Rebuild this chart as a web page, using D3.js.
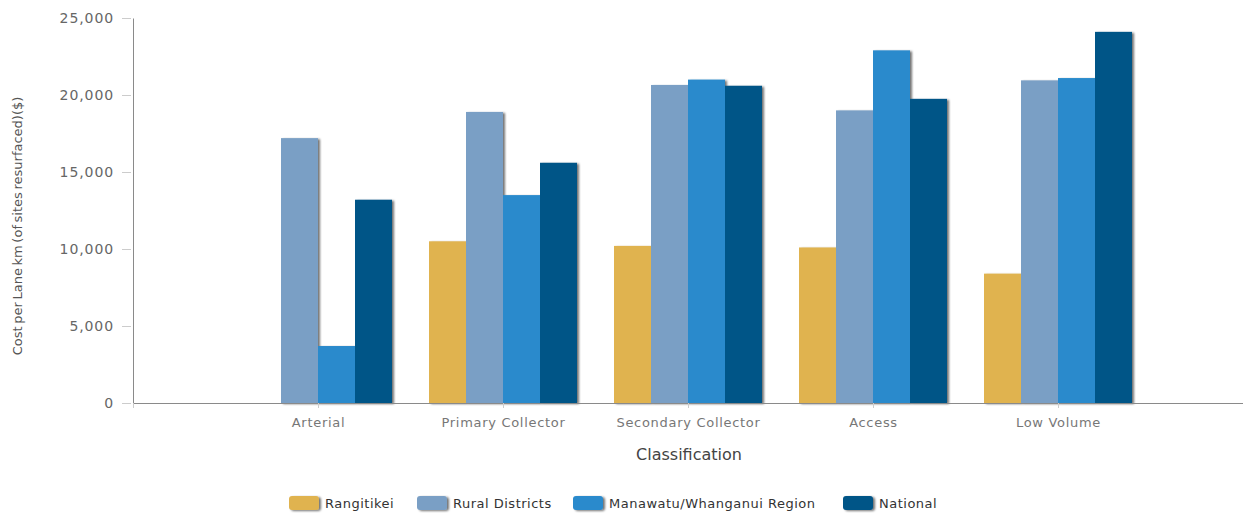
<!DOCTYPE html>
<html>
<head>
<meta charset="utf-8">
<script src="https://cdn.jsdelivr.net/npm/d3@7"></script>
<style>
  body { margin: 0; background: #fff; }
  text { font-family: "DejaVu Sans", Verdana, sans-serif; }
</style>
</head>
<body>
<div id="chart"></div>
<script>
(function(){
    var width = 1245, height = 515;

    // data
    var categories = ["Arterial", "Primary Collector", "Secondary Collector", "Access", "Low Volume"];
    var seriesNames = ["Rangitikei", "Rural Districts", "Manawatu/Whanganui Region", "National"];
    var rangitikei = [0, 10500, 10200, 10100, 8400];
    var ruralDistricts = [17200, 18900, 20650, 19000, 20950];
    var region = [3700, 13500, 21000, 22900, 21100];
    var national = [13200, 15600, 20600, 19750, 24100];
    var yTicks = [0, 5000, 10000, 15000, 20000, 25000];
    var colors = ["#e0b350", "#7a9fc5", "#2a8acc", "#025487"];

    var allSeries = [rangitikei, ruralDistricts, region, national];

    var margin = {top: 18, left: 133, right: 2, bottom: 112};
    var plotW = width - margin.left - margin.right,
        plotH = height - margin.top - margin.bottom;

    var svg = d3.select("#chart").append("svg")
        .attr("width", width)
        .attr("height", height);

    // drop shadow for bars and legend swatches
    var defs = svg.append("defs");
    var f = defs.append("filter").attr("id", "shadow")
        .attr("x", "-20%").attr("y", "-5%").attr("width", "150%").attr("height", "130%");
    f.append("feDropShadow")
        .attr("dx", 2).attr("dy", 1).attr("stdDeviation", 0.9)
        .attr("flood-color", "#000").attr("flood-opacity", 0.55);

    var g = svg.append("g")
        .attr("transform", "translate(" + margin.left + "," + margin.top + ")");

    var x = d3.scalePoint().domain(categories).range([0, plotW]).padding(1);
    var step = x.step();
    var x1 = d3.scaleBand().domain(seriesNames).range([-step * 0.4, step * 0.4]);
    var y = d3.scaleLinear().domain([0, 25000]).range([plotH, 0]);

    // y axis
    var yAxis = g.append("g")
        .call(d3.axisLeft(y).tickValues(yTicks).tickSize(10).tickPadding(4)
            .tickFormat(d3.format(",")));
    yAxis.select(".domain").attr("stroke", "#8a8a8a").attr("d", "M0.5," + plotH + "V0.5");
    yAxis.selectAll(".tick line").attr("stroke", "#ccc").attr("x2", -2).attr("x1", -11);
    yAxis.selectAll(".tick text")
        .attr("fill", "#666").style("font-size", "14px").style("letter-spacing", "0.9px")
        .attr("x", -19);

    // bars
    var groups = g.selectAll("g.cat")
        .data(categories)
        .enter().append("g")
        .attr("class", "cat")
        .attr("transform", function(d) { return "translate(" + x(d) + ",0)"; });

    groups.selectAll("rect")
        .data(function(d, i) {
            return seriesNames.map(function(s, j) {
                return {series: s, value: allSeries[j][i], color: colors[j]};
            });
        })
        .enter().append("rect")
        .filter(function(d) { return d.value > 0; })
        .attr("x", function(d) { return x1(d.series); })
        .attr("width", x1.bandwidth())
        .attr("y", function(d) { return y(d.value); })
        .attr("height", function(d) { return plotH - y(d.value); })
        .attr("fill", function(d) { return d.color; })
        .attr("filter", "url(#shadow)");

    // x axis
    var xAxis = g.append("g")
        .attr("transform", "translate(0," + plotH + ")")
        .call(d3.axisBottom(x).tickSize(5).tickPadding(10));
    xAxis.select(".domain").attr("stroke", "#8a8a8a").attr("d", "M0,0.5H" + plotW);
    xAxis.selectAll(".tick line").attr("stroke", "#ccc");
    xAxis.selectAll(".tick text").attr("fill", "#777")
        .style("font-size", "13px").style("letter-spacing", "0.7px");
    xAxis.append("line")
        .attr("x1", 0.5).attr("x2", 0.5).attr("y1", 0).attr("y2", 5)
        .attr("stroke", "#ccc");

    // axis titles
    svg.append("text")
        .attr("x", 689).attr("y", 460)
        .attr("text-anchor", "middle")
        .attr("fill", "#444")
        .style("font-size", "16px")
        .text("Classification");

    svg.append("text")
        .attr("transform", "translate(22,226) rotate(-90)")
        .attr("text-anchor", "middle")
        .attr("fill", "#555")
        .style("font-size", "13px")
        .style("word-spacing", "-1.5px")
        .text("Cost per Lane km (of sites resurfaced)($)");

    // legend
    var legendX = [289, 417, 573, 843];
    var legend = svg.append("g").attr("transform", "translate(0,496)");
    var items = legend.selectAll("g")
        .data(seriesNames)
        .enter().append("g")
        .attr("transform", function(d, i) { return "translate(" + legendX[i] + ",0)"; });
    items.append("rect")
        .attr("width", 30).attr("height", 14).attr("rx", 3)
        .attr("fill", function(d, i) { return colors[i]; })
        .attr("filter", "url(#shadow)");
    items.append("text")
        .attr("x", 36).attr("y", 12)
        .attr("fill", "#333")
        .style("font-size", "13px")
        .style("letter-spacing", "0.5px")
        .text(function(d) { return d; });
})();
</script>
</body>
</html>
